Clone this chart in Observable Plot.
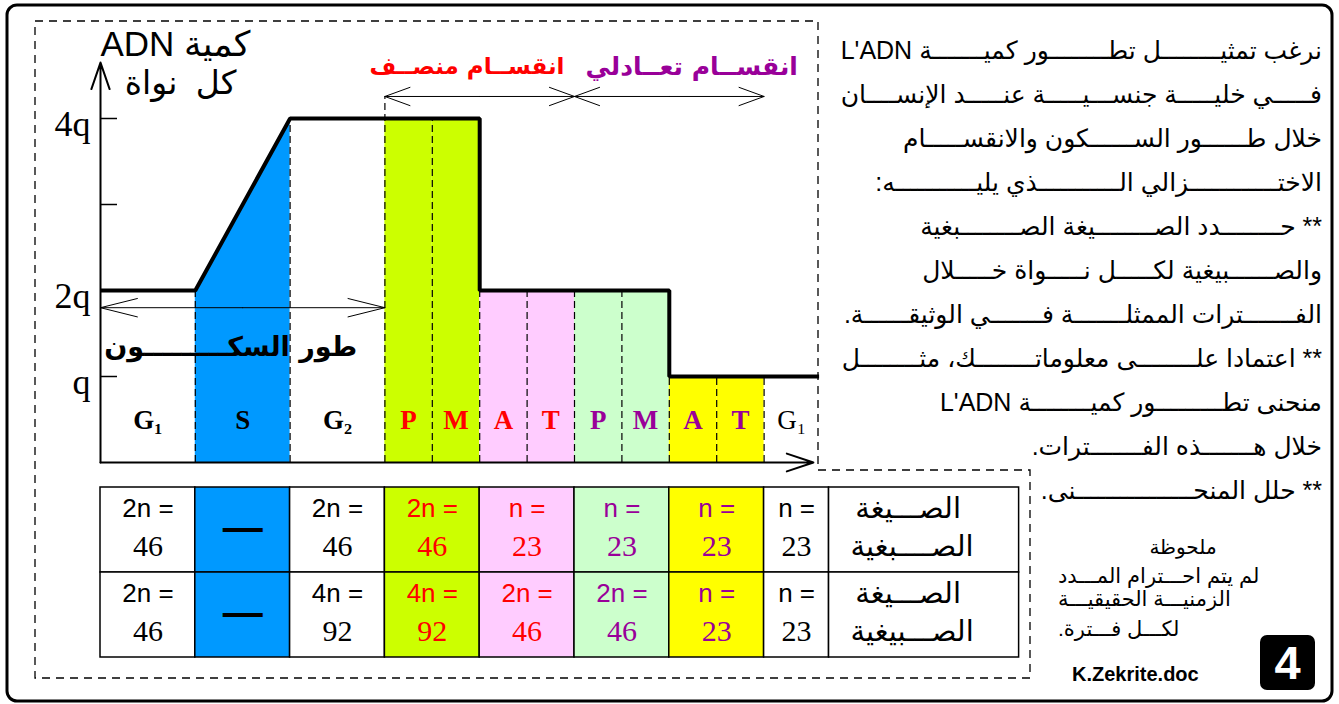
<!DOCTYPE html>
<html>
<head>
<meta charset="utf-8">
<script src="https://cdn.jsdelivr.net/npm/d3@7"></script>
<script src="https://cdn.jsdelivr.net/npm/@observablehq/plot@0.6"></script>
<style>
  html, body { margin: 0; padding: 0; background: #fff; }
  #page { position: relative; width: 1339px; height: 704px; overflow: hidden; background: #fff;
          font-family: "Liberation Sans", "DejaVu Sans", sans-serif; color: #000; }
  #page > svg { position: absolute; left: 0; top: 0; }
  .q { position: absolute; direction: rtl; white-space: nowrap; text-align: right;
       font-size: 25px; line-height: 44px; height: 44px; }
  .n { position: absolute; direction: rtl; white-space: nowrap; font-size: 21px; }
</style>
</head>
<body>
<div id="page"></div>
<script>
// ---------------- DATA ----------------
const phaseLabels    = ["G\u2081", "S", "G\u2082", "P", "M", "A", "T", "P", "M", "A", "T", "G\u2081"];
const phaseDurations = [2, 2, 2, 1, 1, 1, 1, 1, 1, 1, 1, 1.16];
const phasePeriods   = ["G1", "S", "G2", "PM-I", "PM-I", "AT-I", "AT-I", "PM-II", "PM-II", "AT-II", "AT-II", "G1-next"];
const phaseDivisions = ["interphase", "interphase", "interphase",
                        "meiosis I", "meiosis I", "meiosis I", "meiosis I",
                        "meiosis II", "meiosis II", "meiosis II", "meiosis II", "next cell"];

const dnaTimes      = [0, 2, 4, 8, 8, 12, 12, 15.16];
const dnaQuantities = [2, 2, 4, 4, 2, 2, 1, 1];   // in units of q

const yTickValues = [1, 2, 3, 4];
const yTickLabels = ["q", "2q", "", "4q"];

const yAxisTitle     = ["\u202Bكمية ADN\u202C", "كل  نواة"];
const divisionTitles = ["طور السكـــــــــون", "انقســام منصــف", "انقســام تعــادلي"];
const divisionNames  = ["interphase", "meiosis I", "meiosis II"];

const tablePeriods      = ["G1", "S", "G2", "PM-I", "AT-I", "PM-II", "AT-II", "G1-next"];
const chromosomeFormula = ["2n = 46", "—", "2n = 46", "2n = 46", "n = 23", "n = 23", "n = 23", "n = 23"];
const chromatidFormula  = ["2n = 46", "—", "4n = 92", "4n = 92", "2n = 46", "2n = 46", "n = 23", "n = 23"];
const rowKeys   = ["chromosomes", "chromatids"];
const rowTitles = [["الصـــيغة", "الصــــبغية"], ["الصـــيغة", "الصـــبيغية"]];

const questionLines = [
  "نرغب تمثيـــل تطـــور كميـــة L'ADN",
  "فـــي خليـــة جنسـيـــة عنـــد الإنســـان",
  "خلال طـــور الســـكون والانقســـام",
  "الاختـــزالي الـــذي يليـــه:",
  "** حـــدد الصـــيغة الصـــبغية",
  "والصـــبيغية لكـــل نـــواة خـــلال",
  "الفـــترات الممثلـــة فـــي الوثيقـــة.",
  "** اعتمادا علـــى معلوماتـــك، مثـــل",
  "منحنى تطـــور كميـــة L'ADN",
  "خلال هـــذه الفـــترات.",
  "** حلل المنحـــنى."
];
const noteTitle = "ملحوظة";
const noteLines = ["لم يتم احـــترام المـــدد", "الزمنيـــة الحقيقيـــة", "لكـــل فـــترة."];
const footerText = "K.Zekrite.doc";
const pageNumber = "4";

// ---------------- STYLES / LAYOUT ----------------
const periodFill = {"G1": "white", "S": "#0099ff", "G2": "white", "PM-I": "#ccff00", "AT-I": "#ffccff",
                    "PM-II": "#ccffcc", "AT-II": "#ffff00", "G1-next": "white"};
const divisionInk = {"interphase": "black", "meiosis I": "#ff0000", "meiosis II": "#990099", "next cell": "black"};

const W = 1339, H = 704;
const X0 = 100, UNIT = 47.4;
const xOpts = {domain: [0, 14], range: [X0, X0 + 14 * UNIT], axis: null};
const yOpts = {domain: [0, 4], range: [462, 118], axis: null};
const AXIS_TOP = 4.65, AXIS_RIGHT = 15.04;
const REST_ARROW_Q = 1.8, DIV_ARROW_Q = 4.256;
const TABLE_LAST_END = 15.37, TABLE_LABEL_END = 19.38;
const qLefts = [836, 838, 903, 877, 915, 917, 845, 843, 935, 1028, 1040];
const Q_RIGHT = 1322;

const page = document.getElementById("page");

// frames (decoration)
const frame = d3.create("svg").attr("width", W).attr("height", H);
frame.append("rect").attr("x", 7).attr("y", 5).attr("width", 1325).attr("height", 696).attr("rx", 10)
  .attr("fill", "none").attr("stroke", "black").attr("stroke-width", 3);
frame.append("path").attr("d", "M35,21H818V470H1030V678H35Z")
  .attr("fill", "none").attr("stroke", "black").attr("stroke-width", 1.3).attr("stroke-dasharray", "8,6");
page.append(frame.node());

// ---------------- DERIVED ----------------
const ends = Array.from(d3.cumsum(phaseDurations));
const phases = phaseLabels.map((label, i) => ({
  label, start: i ? ends[i - 1] : 0, end: ends[i],
  period: phasePeriods[i], division: phaseDivisions[i], idx: i
}));
const curve = dnaTimes.map((t, i) => ({t, q: dnaQuantities[i]}));
function dnaAt(t, side) {
  for (let k = 0; k < curve.length - 1; k++) {
    const a = curve[k], b = curve[k + 1];
    const ok = side < 0 ? (a.t < t && t <= b.t) : (a.t <= t && t < b.t);
    if (ok) return a.q + (b.q - a.q) * (t - a.t) / (b.t - a.t);
  }
  return curve[curve.length - 1].q;
}
const areaPts = [];
phases.filter(p => periodFill[p.period] !== "white").forEach(p => {
  areaPts.push({phase: p.idx, period: p.period, t: p.start, q: dnaAt(p.start, 1)});
  areaPts.push({phase: p.idx, period: p.period, t: p.end, q: dnaAt(p.end, -1)});
});
const bounds = phases.slice(1).map((p, j) => {
  const t = p.start;
  let top = Math.min(dnaAt(t, -1), dnaAt(t, 1));
  if (phases[j].division === "interphase" && p.division === "meiosis I") top = DIV_ARROW_Q;
  return {t, top};
});
const divSpans = divisionNames.map((name, i) => {
  const ps = phases.filter(p => p.division === name);
  return {name, title: divisionTitles[i], start: d3.min(ps, p => p.start), end: d3.max(ps, p => p.end)};
});
const divArrows = [];
divSpans.forEach(s => {
  const mid = (s.start + s.end) / 2;
  const yq = s.name === "interphase" ? REST_ARROW_Q : DIV_ARROW_Q;
  divArrows.push({name: s.name, x1: mid, x2: s.start, y: yq});
  divArrows.push({name: s.name, x1: mid, x2: s.end, y: yq});
});
const ticks = yTickValues.map((v, i) => ({v, label: yTickLabels[i]}));

// ---------------- GRAPH ----------------
const graph = Plot.plot({
  width: W, height: H, margin: 0,
  x: xOpts, y: yOpts,
  style: {background: "transparent", overflow: "visible"},
  marks: [
    Plot.areaY(areaPts, {x: "t", y1: 0, y2: "q", z: "phase", fill: d => periodFill[d.period], curve: "linear"}),
    Plot.ruleX(bounds, {x: "t", y1: 0, y2: "top", stroke: "black", strokeWidth: 1.2, strokeDasharray: "7,4"}),
    Plot.line(curve, {x: "t", y: "q", stroke: "black", strokeWidth: 4, strokeLinejoin: "miter", strokeLinecap: "butt"}),
    // axes with arrow heads
    Plot.arrow([{}], {x1: 0, y1: 0, x2: 0, y2: AXIS_TOP, stroke: "black", strokeWidth: 2, headLength: 21, headAngle: 38}),
    Plot.arrow([{}], {x1: 0, y1: 0, x2: AXIS_RIGHT, y2: 0, stroke: "black", strokeWidth: 2, headLength: 21, headAngle: 37}),
    Plot.ruleY(ticks, {y: "v", x1: 0, x2: 17 / UNIT, stroke: "black", strokeWidth: 1.5}),
    Plot.text(ticks, {x: 0, y: "v", text: "label", textAnchor: "end", dx: -10, dy: 6,
      fontFamily: "Liberation Serif, DejaVu Serif, serif", fontSize: 36, fill: "black"}),
    // division arrows
    Plot.arrow(divArrows.filter(d => d.name === "interphase"), {x1: "x1", x2: "x2", y1: "y", y2: "y",
      stroke: "black", strokeWidth: 1, headLength: 57, headAngle: 28}),
    Plot.arrow(divArrows.filter(d => d.name !== "interphase"), {x1: "x1", x2: "x2", y1: "y", y2: "y",
      stroke: "black", strokeWidth: 1, headLength: 40, headAngle: 40}),
    // division titles
    Plot.text(divSpans.filter(d => d.name === "interphase"), {x: d => (d.start + d.end) / 2, y: 1.34, dx: -12,
      text: "title", fontWeight: "bold", fontSize: 27, fontFamily: "DejaVu Sans, sans-serif", fill: "black"}),
    Plot.text(divSpans.filter(d => d.name === "meiosis I"), {x: "end", y: 4.6, dx: -10, textAnchor: "end",
      text: "title", fontWeight: "bold", fontSize: 23, fontFamily: "DejaVu Sans, sans-serif", fill: d => divisionInk[d.name]}),
    Plot.text(divSpans.filter(d => d.name === "meiosis II"), {x: "start", y: 4.6, dx: 11, textAnchor: "start",
      text: "title", fontWeight: "bold", fontSize: 25, fontFamily: "DejaVu Sans, sans-serif", fill: d => divisionInk[d.name]}),
    // y-axis title
    Plot.text([yAxisTitle[0]], {x: 1.58, y: 4.86, text: d => d, fontSize: 35, fontFamily: "Liberation Sans, DejaVu Sans, sans-serif", fill: "black"}),
    Plot.text([yAxisTitle[1]], {x: 1.69, y: 4.41, text: d => d, fontSize: 33, fontFamily: "Liberation Sans, DejaVu Sans, sans-serif", fill: "black"}),
    // phase labels
    Plot.text(phases.filter(p => p.division !== "next cell"), {x: d => (d.start + d.end) / 2, y: 0.49, text: "label",
      fill: d => divisionInk[d.division], fontWeight: "bold", fontSize: 27, fontFamily: "Liberation Serif, DejaVu Serif, serif"}),
    Plot.text(phases.filter(p => p.division === "next cell"), {x: d => (d.start + d.end) / 2, y: 0.49, text: "label",
      fill: d => divisionInk[d.division], fontSize: 27, fontFamily: "Liberation Serif, DejaVu Serif, serif"})
  ]
});
page.append(graph);

// ---------------- TABLE ----------------
const colEdges = tablePeriods.map(per => {
  const ps = phases.filter(p => p.period === per);
  return {per, x1: d3.min(ps, p => p.start), x2: per === "G1-next" ? TABLE_LAST_END : d3.max(ps, p => p.end),
          ink: divisionInk[ps[0].division]};
});
const cells = [];
rowKeys.forEach((row, r) => {
  const formulas = r === 0 ? chromosomeFormula : chromatidFormula;
  colEdges.forEach((c, j) => {
    const f = formulas[j];
    const parts = f.split(" = ");
    cells.push({row, x1: c.x1, x2: c.x2, fill: periodFill[c.per], ink: c.ink,
      top: parts.length > 1 ? parts[0] + " =" : "", bottom: parts.length > 1 ? parts[1] : "", dash: parts.length > 1 ? "" : f});
  });
});
const labelCells = rowKeys.map((row, r) => ({row, x1: TABLE_LAST_END, x2: TABLE_LABEL_END, top: rowTitles[r][0], bottom: rowTitles[r][1]}));

const table = Plot.plot({
  width: W, height: H, margin: 0,
  x: {domain: xOpts.domain, range: xOpts.range, axis: null},
  y: {type: "band", domain: rowKeys, range: [487, 657], padding: 0, axis: null},
  style: {background: "transparent", overflow: "visible"},
  marks: [
    Plot.barX(cells, {x1: "x1", x2: "x2", y: "row", fill: "fill", stroke: "black", strokeWidth: 1.5}),
    Plot.barX(labelCells, {x1: "x1", x2: "x2", y: "row", fill: "white", stroke: "black", strokeWidth: 1.5}),
    Plot.text(cells, {x: d => (d.x1 + d.x2) / 2, y: "row", text: "top", dy: -21, fill: "ink",
      fontSize: 26, fontFamily: "Liberation Sans, Arial, sans-serif"}),
    Plot.text(cells, {x: d => (d.x1 + d.x2) / 2, y: "row", text: "bottom", dy: 16, fill: "ink",
      fontSize: 30, fontFamily: "Liberation Serif, serif"}),
    Plot.text(cells, {x: d => (d.x1 + d.x2) / 2, y: "row", text: "dash", dy: -2, fill: "black",
      fontSize: 40, fontWeight: "bold", fontFamily: "Liberation Sans, sans-serif"}),
    Plot.text(labelCells, {x: d => (d.x1 + d.x2) / 2, y: "row", text: "top", dx: -16, dy: -21, fill: "black",
      fontSize: 29, fontFamily: "DejaVu Sans, sans-serif"}),
    Plot.text(labelCells, {x: d => (d.x1 + d.x2) / 2, y: "row", text: "bottom", dx: -12, dy: 17, fill: "black",
      fontSize: 29, fontFamily: "DejaVu Sans, sans-serif"})
  ]
});
page.append(table);

// ---------------- RIGHT TEXT ----------------
// kashida justification: lengthen existing tatweel runs until the line reaches its width
function kashidaFit(el, target) {
  const span = document.createElement("span");
  span.textContent = el.textContent;
  el.textContent = "";
  el.append(span);
  let text = span.textContent;
  for (let guard = 0; guard < 300; guard++) {
    if (span.getBoundingClientRect().width >= target - 3) break;
    const runs = [...text.matchAll(/ـ+/g)];
    if (!runs.length) break;
    const m = runs[guard % runs.length];
    const next = text.slice(0, m.index) + "ـ" + text.slice(m.index);
    span.textContent = next;
    if (span.getBoundingClientRect().width > target + 2) { span.textContent = text; break; }
    text = next;
  }
}
questionLines.forEach((line, i) => {
  const d = document.createElement("div");
  d.className = "q";
  d.textContent = line;
  d.style.top = (28 + i * 44) + "px";
  d.style.left = qLefts[i] + "px";
  d.style.width = (Q_RIGHT - qLefts[i]) + "px";
  page.append(d);
  kashidaFit(d, Q_RIGHT - qLefts[i]);
});
const nt = document.createElement("div");
nt.className = "n"; nt.textContent = noteTitle;
nt.style.left = "1120px"; nt.style.width = "126px"; nt.style.textAlign = "center"; nt.style.top = "535px"; nt.style.fontSize = "20px";
page.append(nt);
const noteTops = [564, 587, 617];
noteLines.forEach((line, i) => {
  const d = document.createElement("div");
  d.className = "n"; d.textContent = line;
  d.style.left = "1058px"; d.style.width = "225px"; d.style.textAlign = "left"; d.style.top = noteTops[i] + "px";
  page.append(d);
});
const ft = document.createElement("div");
ft.textContent = footerText;
Object.assign(ft.style, {position: "absolute", left: "1072px", top: "663px", fontSize: "20px", fontWeight: "bold"});
page.append(ft);
const pg = document.createElement("div");
pg.textContent = pageNumber;
Object.assign(pg.style, {position: "absolute", left: "1260px", top: "635px", width: "55px", height: "55px",
  background: "black", color: "white", borderRadius: "7px", fontSize: "47px", fontWeight: "bold",
  textAlign: "center", lineHeight: "55px"});
page.append(pg);
</script>
</body>
</html>
